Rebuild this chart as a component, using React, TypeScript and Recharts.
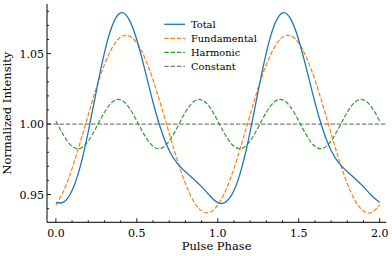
import { LineChart, Line, XAxis, YAxis, ReferenceLine } from "recharts"

// pulse phase samples
const phase = [
  0, 0.05, 0.1, 0.15, 0.2, 0.25, 0.3, 0.35, 0.4, 0.45, 0.5, 0.55, 0.6, 0.65, 0.7, 0.75, 0.8, 0.85, 0.9, 0.95, 1.0,
  1.05, 1.1, 1.15, 1.2, 1.25, 1.3, 1.35, 1.4, 1.45, 1.5, 1.55, 1.6, 1.65, 1.7, 1.75, 1.8, 1.85, 1.9, 1.95, 2.0,
]

const total = [
  0.9442, 0.9448, 0.9528, 0.9698, 0.9947, 1.0236, 1.0507, 1.0704, 1.0789, 1.0746, 1.0597, 1.0383, 1.0155, 0.9958,
  0.9813, 0.9721, 0.9662, 0.9611, 0.9556, 0.9493, 0.9442,
  0.9448, 0.9528, 0.9698, 0.9947, 1.0236, 1.0507, 1.0704, 1.0789, 1.0746, 1.0597, 1.0383, 1.0155, 0.9958,
  0.9813, 0.9721, 0.9662, 0.9611, 0.9556, 0.9493, 0.9444,
]

const fundamental = [
  0.9426, 0.9532, 0.9686, 0.987, 1.0067, 1.0258, 1.0423, 1.0546, 1.0617, 1.0626, 1.0575, 1.0467, 1.0313, 1.013,
  0.9933, 0.9743, 0.9578, 0.9453, 0.9384, 0.9373, 0.9426,
  0.9532, 0.9686, 0.987, 1.0067, 1.0258, 1.0423, 1.0546, 1.0617, 1.0626, 1.0575, 1.0467, 1.0313, 1.013,
  0.9933, 0.9743, 0.9578, 0.9453, 0.9384, 0.9373, 0.9426,
]

const harmonic = [
  1.0022, 0.9916, 0.9842, 0.9828, 0.988, 0.9978, 1.0084, 1.0158, 1.0172, 1.012, 1.0022, 0.9916, 0.9842, 0.9828,
  0.988, 0.9978, 1.0084, 1.0158, 1.0172, 1.012, 1.0022,
  0.9916, 0.9842, 0.9828, 0.988, 0.9978, 1.0084, 1.0158, 1.0172, 1.012, 1.0022, 0.9916, 0.9842, 0.9828,
  0.988, 0.9978, 1.0084, 1.0158, 1.0172, 1.012, 1.0022,
]

const constantLevel = 1.0

const xMajor = [0, 0.5, 1, 1.5, 2]
const xTicks = [0, 0.1, 0.2, 0.3, 0.4, 0.5, 0.6, 0.7, 0.8, 0.9, 1, 1.1, 1.2, 1.3, 1.4, 1.5, 1.6, 1.7, 1.8, 1.9, 2]
const yMajor = [0.95, 1.0, 1.05]
const yTicks = [0.94, 0.95, 0.96, 0.97, 0.98, 0.99, 1.0, 1.01, 1.02, 1.03, 1.04, 1.05, 1.06, 1.07, 1.08]

const legendNames = ["Total", "Fundamental", "Harmonic", "Constant"]
const legendColors = ["#1f77b4", "#ff7f0e", "#2ca02c", "#7f7f7f"]
const legendDash = ["", "4.4 1.9", "4.4 1.9", "4.4 1.9"]

const data = phase.map((p, i) => ({
  phase: p,
  total: total[i],
  fundamental: fundamental[i],
  harmonic: harmonic[i],
}))

const FONT = "'DejaVu Serif', serif"
const MAJOR = 4
const MINOR = 2

const isMajor = (v: number, list: number[]) => list.some((m) => Math.abs(m - v) < 1e-6)

function BottomTick({ x, y, payload }: any) {
  const major = isMajor(payload.value, xMajor)
  return (
    <g>
      <line x1={x} x2={x} y1={y} y2={y - (major ? MAJOR : MINOR)} stroke="#000" strokeWidth={0.9} />
      {major && (
        <text x={x} y={y + 14.4} textAnchor="middle" fontSize={11} fontFamily={FONT} fill="#000">
          {payload.value.toFixed(1)}
        </text>
      )}
    </g>
  )
}

function TopTick({ x, y, payload }: any) {
  const major = isMajor(payload.value, xMajor)
  return <line x1={x} x2={x} y1={y} y2={y + (major ? MAJOR : MINOR)} stroke="#000" strokeWidth={0.9} />
}

function LeftTick({ x, y, payload }: any) {
  const major = isMajor(payload.value, yMajor)
  return (
    <g>
      <line x1={x} x2={x + (major ? MAJOR : MINOR)} y1={y} y2={y} stroke="#000" strokeWidth={0.9} />
      {major && (
        <text x={x - 3} y={y + 4} textAnchor="end" fontSize={11} fontFamily={FONT} fill="#000">
          {payload.value.toFixed(2)}
        </text>
      )}
    </g>
  )
}

function RightTick({ x, y, payload }: any) {
  const major = isMajor(payload.value, yMajor)
  return <line x1={x} x2={x - (major ? MAJOR : MINOR)} y1={y} y2={y} stroke="#000" strokeWidth={0.9} />
}

export default function App() {
  return (
    <div style={{ position: "absolute", left: 0, top: 0, width: 392, height: 256, background: "#fff" }}>
      <LineChart width={392} height={256} data={data} margin={{ top: 4, right: 5.7, left: 0, bottom: 0 }}>
        <XAxis
          dataKey="phase"
          type="number"
          domain={[-0.055, 2.041]}
          ticks={xTicks}
          interval={0}
          height={33.7}
          tickSize={0}
          tickMargin={0}
          tick={BottomTick}
          axisLine={{ stroke: "#000", strokeWidth: 1 }}
          allowDataOverflow
          label={{
            content: ({ viewBox }: any) => (
              <text
                x={viewBox.x + viewBox.width / 2}
                y={viewBox.y + 27.7}
                textAnchor="middle"
                fontSize={11.5}
                fontFamily={FONT}
                fill="#000"
              >
                Pulse Phase
              </text>
            ),
          }}
        />
        <XAxis
          xAxisId="top"
          orientation="top"
          dataKey="phase"
          type="number"
          domain={[-0.055, 2.041]}
          ticks={xTicks}
          interval={0}
          height={0}
          tickSize={0}
          tickMargin={0}
          tick={TopTick}
          axisLine={{ stroke: "#000", strokeWidth: 1 }}
          allowDataOverflow
        />
        <YAxis
          type="number"
          domain={[0.9303, 1.0852]}
          ticks={yTicks}
          interval={0}
          width={47}
          tickSize={0}
          tickMargin={0}
          tick={LeftTick}
          axisLine={{ stroke: "#000", strokeWidth: 1 }}
          allowDataOverflow
          label={{
            content: ({ viewBox }: any) => {
              const cy = viewBox.y + viewBox.height / 2
              return (
                <text
                  x={11.5}
                  y={cy}
                  transform={`rotate(-90 11.5 ${cy})`}
                  textAnchor="middle"
                  fontSize={11.5}
                  fontFamily={FONT}
                  fill="#000"
                >
                  Normalized Intensity
                </text>
              )
            },
          }}
        />
        <YAxis
          yAxisId="right"
          orientation="right"
          type="number"
          domain={[0.9303, 1.0852]}
          ticks={yTicks}
          interval={0}
          width={0}
          tickSize={0}
          tickMargin={0}
          tick={RightTick}
          axisLine={{ stroke: "#000", strokeWidth: 1 }}
          allowDataOverflow
        />
        <ReferenceLine y={constantLevel} stroke={legendColors[3]} strokeWidth={1.2} strokeDasharray={legendDash[3]} />
        <Line
          type="natural"
          dataKey="harmonic"
          stroke={legendColors[2]}
          strokeWidth={1.2}
          strokeDasharray={legendDash[2]}
          dot={false}
          isAnimationActive={false}
        />
        <Line
          type="natural"
          dataKey="fundamental"
          stroke={legendColors[1]}
          strokeWidth={1.2}
          strokeDasharray={legendDash[1]}
          dot={false}
          isAnimationActive={false}
        />
        <Line
          type="natural"
          dataKey="total"
          stroke={legendColors[0]}
          strokeWidth={1.3}
          dot={false}
          isAnimationActive={false}
        />
      </LineChart>
      <svg
        width={392}
        height={256}
        style={{ position: "absolute", left: 0, top: 0, pointerEvents: "none" }}
      >
        {legendNames.map((name, i) => {
          const cy = 24.3 + i * 14
          return (
            <g key={name}>
              <line
                x1={164.3}
                x2={185}
                y1={cy}
                y2={cy}
                stroke={legendColors[i]}
                strokeWidth={i === 0 ? 1.3 : 1.2}
                strokeDasharray={legendDash[i] || undefined}
              />
              <text x={191} y={cy + 3.5} fontSize={9.8} fontFamily={FONT} fill="#000">
                {name}
              </text>
            </g>
          )
        })}
      </svg>
    </div>
  )
}
